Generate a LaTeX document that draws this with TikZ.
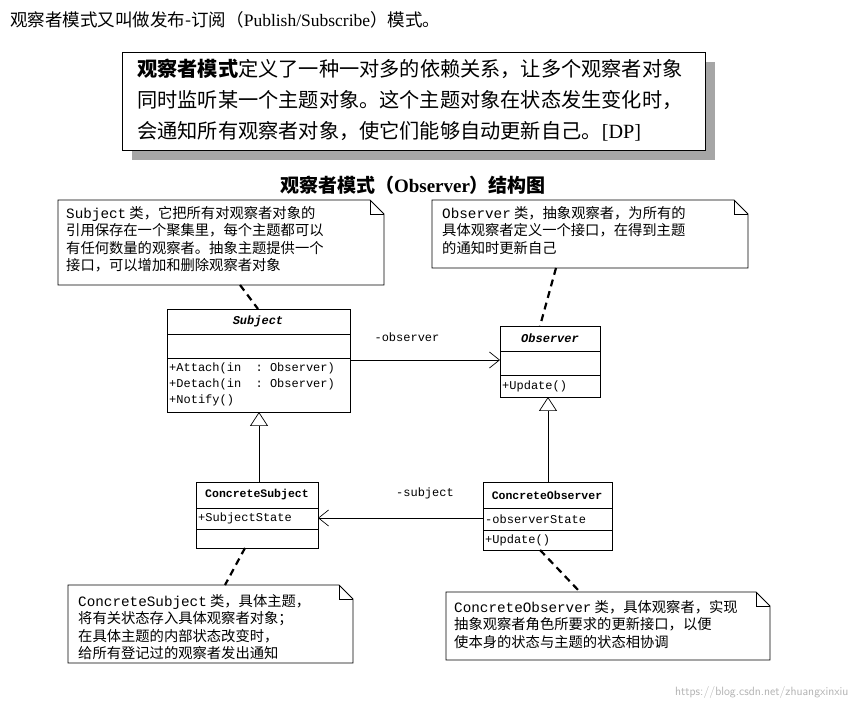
\documentclass[tikz,border=0pt]{standalone}
\usepackage{fontspec}
\setmainfont{Liberation Serif}
\setmonofont{Liberation Mono}
\newfontfamily\cjk{Noto Sans CJK SC}
\usetikzlibrary{arrows.meta}
\tikzset{
  note/.style={draw,line width=0.8pt,fill=white},
  cls/.style={draw,line width=0.8pt},
  dsh/.style={line width=2.2pt,dash pattern=on 7pt off 5pt},
  uml/.style={font=\ttfamily\fontsize{12}{13}\selectfont,anchor=west,inner sep=1pt},
  ntxt/.style={font=\fontsize{14.3}{17.5}\selectfont,align=left,anchor=north west,inner sep=0pt},
}
\newcommand{\C}[1]{{\cjk #1}}
\newcommand{\notebox}[5]{% name x1 y1 x2 y2
  \draw[note] (#2,#3) -- (#4-14,#3) -- (#4,#3+14) -- (#4,#5) -- (#2,#5) -- cycle;
  \draw[line width=0.8pt] (#4-14,#3) -- (#4-14,#3+14) -- (#4,#3+14);
  \coordinate (#1) at (#2,#3);}
\begin{document}
\begin{tikzpicture}[x=1pt,y=-1pt]
\useasboundingbox[fill=white] (0,0) rectangle (860,708);
\node[anchor=west,inner sep=0pt,font=\fontsize{17.5}{20}\selectfont] (top) at (10,20) {\C{观察者模式又叫做发布-订阅（}Publish/Subscribe\C{）模式。}};
% definition box
\fill[gray!70] (132,62) rectangle (715,160);
\node[draw,line width=1pt,fill=white,minimum width=583,minimum height=98,anchor=north west,inner sep=0pt] (def) at (122,52) {};
\node[anchor=north west,inner sep=0pt,align=left,font=\fontsize{20.2}{31}\selectfont] (deft) at (137,59)
 {\C{\textbf{观察者模式}定义了一种一对多的依赖关系，让多个观察者对象}\\\C{同时监听某一个主题对象。这个主题对象在状态发生变化时，}\\\C{会通知所有观察者对象，使它们能够自动更新自己。}[DP]};
\node[font=\fontsize{19}{20}\selectfont\bfseries] (title) at (413,185) {\C{观察者模式（}Observer\C{）结构图}};
% notes
\notebox{n1}{58}{200}{384}{285}
\node[ntxt] (n1t) at (66,206) {\texttt{Subject}\C{ 类，它把所有对观察者对象的}\\\C{引用保存在一个聚集里，每个主题都可以}\\\C{有任何数量的观察者。抽象主题提供一个}\\\C{接口，可以增加和删除观察者对象}};
\notebox{n2}{432}{200}{748}{268}
\node[ntxt] (n2t) at (442,206) {\texttt{Observer}\C{ 类，抽象观察者，为所有的}\\\C{具体观察者定义一个接口，在得到主题}\\\C{的通知时更新自己}};
\notebox{n3}{68}{585}{353}{663}
\node[ntxt] (n3t) at (78,594) {\texttt{ConcreteSubject}\C{ 类，具体主题，}\\\C{将有关状态存入具体观察者对象；}\\\C{在具体主题的内部状态改变时，}\\\C{给所有登记过的观察者发出通知}};
\notebox{n4}{446}{592}{770}{660}
\node[ntxt] (n4t) at (454,600) {\texttt{ConcreteObserver}\C{ 类，具体观察者，实现}\\\C{抽象观察者角色所要求的更新接口，以便}\\\C{使本身的状态与主题的状态相协调}};
% classes
\draw[cls] (167,309) rectangle (350,412); \draw[cls] (167,334)--(350,334); \draw[cls] (167,358)--(350,358);
\node[uml,anchor=center,font=\ttfamily\itshape\bfseries\fontsize{12}{13}\selectfont] (subj) at (258,321) {Subject};
\node[uml] (s1) at (168,368) {+Attach(in\ \ : Observer)};
\node[uml] (s2) at (168,384) {+Detach(in\ \ : Observer)};
\node[uml] (s3) at (168,400) {+Notify()};
\coordinate (subjB) at (259,412); \coordinate (subjT) at (258,309); \coordinate (subjR) at (350,360);

\draw[cls] (500,326) rectangle (600,397); \draw[cls] (500,351)--(600,351); \draw[cls] (500,375)--(600,375);
\node[uml,anchor=center,font=\ttfamily\itshape\bfseries\fontsize{12}{13}\selectfont] (obs) at (550,338) {Observer};
\node[uml] (o1) at (501,386) {+Update()};
\coordinate (obsB) at (548,397); \coordinate (obsT) at (540,326); \coordinate (obsL) at (500,360);

\draw[cls] (196,482) rectangle (318,548); \draw[cls] (196,508)--(318,508); \draw[cls] (196,529)--(318,529);
\node[uml,anchor=center,font=\ttfamily\bfseries\fontsize{11.5}{13}\selectfont] (cs) at (257,495) {ConcreteSubject};
\node[uml] (cs1) at (197,518) {+SubjectState};
\coordinate (csT) at (259,482); \coordinate (csR) at (318,518); \coordinate (csB) at (245,548);

\draw[cls] (483,482) rectangle (612,550); \draw[cls] (483,508)--(612,508); \draw[cls] (483,530)--(612,530);
\node[uml,anchor=center,font=\ttfamily\bfseries\fontsize{11.5}{13}\selectfont] (co) at (547,495) {ConcreteObserver};
\node[uml] (co1) at (484,519) {-observerState};
\node[uml] (co2) at (484,540) {+Update()};
\coordinate (coT) at (548,482); \coordinate (coL) at (483,518); \coordinate (coB) at (540,550);

% connectors
\draw[line width=0.7pt,-{Triangle[open,length=14pt,width=18pt]}] (csT) -- (subjB);
\draw[line width=0.7pt,-{Triangle[open,length=14pt,width=18pt]}] (coT) -- (obsB);
\draw[line width=0.7pt,-{Straight Barb[length=10pt,width=16pt]}] (subjR) -- (obsL);
\draw[line width=0.7pt,-{Straight Barb[length=10pt,width=16pt]}] (coL) -- (csR);
\node[uml,anchor=center] (lo) at (407,337) {-observer};
\node[uml,anchor=center] (ls) at (425,493) {-subject};
\coordinate (n1b) at (240,285); \coordinate (n2b) at (556,268);
\coordinate (n3t) at (225,585); \coordinate (n4t) at (580,592);
\draw[dsh] (n1b) -- (subjT);
\draw[dsh] (n2b) -- (obsT);
\draw[dsh] (csB) -- (n3t);
\draw[dsh] (coB) -- (n4t);
\node[anchor=east,text=gray!60,font=\sffamily\fontsize{12}{14}\selectfont] (wm) at (852,692) {https://blog.csdn.net/zhuangxinxiu};
\end{tikzpicture}
\end{document}
